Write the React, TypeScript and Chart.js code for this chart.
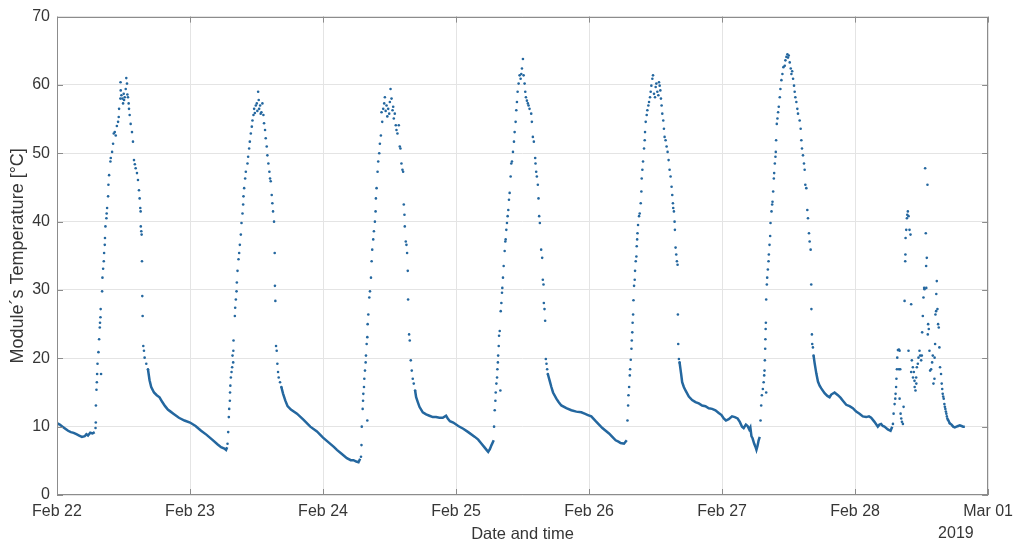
import React, { useEffect, useRef } from 'react';
import { Chart, registerables } from 'chart.js';

Chart.register(...registerables);

// x values are hours since Feb 22 2019 00:00, y values are module temperature in °C
const dayLabels = ['Feb 22', 'Feb 23', 'Feb 24', 'Feb 25', 'Feb 26', 'Feb 27', 'Feb 28', 'Mar 01'];
const yTickValues = [0, 10, 20, 30, 40, 50, 60, 70];
const yearLabel = '2019';
const xTitle = 'Date and time';
const yTitle = 'Module´s Temperature [°C]';

// dense night-time readings (drawn as a continuous run of samples)
const night0 = [[0, 10.5], [0.5, 10.3], [1, 10.0], [1.5, 9.7], [2, 9.4], [2.5, 9.2], [3, 9.1], [3.5, 8.9], [4, 8.7], [4.5, 8.5], [5, 8.6], [5.3, 8.9], [5.6, 8.7], [6, 9.1], [6.4, 9.0], [6.8, 9.2]];
const night1 = [[16.41, 18.4], [16.7, 16.8], [17.0, 15.8], [17.5, 15.0], [18.0, 14.6], [18.5, 14.3], [19.0, 13.6], [19.5, 13.0], [20, 12.5], [20.5, 12.2], [21, 11.9], [22, 11.3], [23, 10.9], [24, 10.6], [25, 10.1], [26, 9.4], [27, 8.8], [28, 8.1], [29, 7.4], [29.6, 7.0], [30.2, 6.8], [30.5, 6.6], [30.7, 7.0]];
const night2 = [[40.48, 15.8], [40.8, 14.8], [41.2, 13.8], [41.6, 13.0], [42.2, 12.5], [43.3, 11.9], [44.5, 11.0], [45.7, 10.0], [46.9, 9.3], [48.0, 8.4], [49.0, 7.7], [50.0, 7.0], [50.5, 6.6], [51.4, 6.0], [52.3, 5.4], [53.0, 5.1], [53.5, 5.1], [54.0, 4.9], [54.4, 4.8], [54.7, 5.3]];
const night3 = [[64.61, 15.3], [64.8, 14.3], [65.1, 13.6], [65.4, 12.9], [66.0, 12.1], [66.6, 11.8], [67.2, 11.6], [67.8, 11.4], [68.4, 11.4], [69.0, 11.3], [69.6, 11.3], [70.2, 11.6], [70.5, 11.2], [70.9, 10.8], [71.5, 10.6], [72.4, 10.1], [73.3, 9.7], [74.2, 9.2], [75.4, 8.5], [76.0, 8.1], [76.6, 7.5], [77.1, 7.0], [77.5, 6.6], [77.8, 6.3], [78.1, 6.7], [78.4, 7.3], [78.8, 8.0]];
const night4 = [[88.56, 17.7], [88.9, 16.7], [89.2, 15.8], [89.5, 15.0], [90.1, 14.1], [90.5, 13.6], [91.0, 13.1], [91.9, 12.7], [92.8, 12.4], [93.7, 12.2], [94.6, 12.1], [95.2, 11.9], [95.8, 11.7], [96.4, 11.5], [97.2, 10.8], [97.8, 10.3], [98.4, 9.8], [99.0, 9.4], [99.6, 9.0], [100.2, 8.5], [100.8, 8.0], [101.3, 7.8], [101.7, 7.6], [102.3, 7.5], [102.8, 8.0]];
const night5 = [[112.33, 19.4], [112.6, 17.8], [112.8, 16.5], [113.1, 15.8], [113.4, 15.3], [114.0, 14.4], [114.6, 13.9], [115.2, 13.6], [115.8, 13.4], [116.4, 13.1], [117.0, 13.0], [117.6, 12.7], [118.2, 12.6], [118.8, 12.4], [119.4, 12.0], [119.9, 11.7], [120.3, 11.2], [120.7, 10.9], [121.2, 11.1], [121.8, 11.5], [122.3, 11.4], [122.8, 11.2], [123.2, 10.7], [123.6, 10.0], [123.9, 9.8], [124.3, 10.3], [124.6, 10.1], [124.9, 9.6], [125.1, 9.9], [125.3, 8.6], [125.5, 8.3], [125.8, 7.5], [126.0, 7.1], [126.2, 6.6], [126.4, 7.2], [126.6, 8.0], [126.8, 8.5]];
const night6 = [[136.51, 20.4], [136.7, 19.3], [137.0, 17.8], [137.3, 16.6], [137.6, 16.0], [137.9, 15.6], [138.5, 14.9], [139.0, 14.5], [139.4, 14.3], [139.7, 14.7], [140.3, 15.0], [140.9, 14.6], [141.4, 14.2], [141.8, 13.8], [142.4, 13.2], [143.0, 13.0], [143.6, 12.7], [144.2, 12.2], [144.8, 11.9], [145.4, 11.5], [146.0, 11.4], [146.5, 11.5], [146.9, 11.3], [147.5, 10.7], [148.1, 10.0], [148.4, 10.3], [148.7, 10.4], [149.0, 10.1], [149.3, 10.0], [149.9, 9.6], [150.4, 9.4], [150.7, 10.0]];
const night7 = [[161.07, 10.5], [161.4, 10.3], [161.7, 10.0], [162.0, 9.9], [162.3, 10.0], [162.6, 10.1], [162.9, 10.2], [163.2, 10.1], [163.5, 10.0], [163.8, 10.0]];

// daytime readings (individual samples)
const sun22 = [[6.95, 9.8], [7.0, 10.6], [7.02, 13.1], [7.12, 15.4], [7.19, 16.5], [7.24, 17.7], [7.31, 19.2], [7.48, 20.9], [7.6, 22.8], [7.72, 24.5], [7.76, 25.2], [7.84, 26.0], [7.88, 27.2], [7.95, 17.7], [8.14, 29.8], [8.2, 31.8], [8.32, 33.1], [8.44, 34.2], [8.5, 35.4], [8.62, 36.6], [8.66, 37.6], [8.74, 39.3], [8.92, 40.5], [8.96, 41.2], [9.04, 42.0], [9.22, 43.7], [9.28, 45.4], [9.4, 46.8], [9.64, 48.8], [9.7, 49.3], [9.94, 50.2], [10.12, 51.4], [10.24, 52.9], [10.42, 53.1], [10.6, 52.6], [10.8, 54.0], [11.02, 54.6], [11.14, 55.3], [11.2, 56.5], [11.44, 58.0], [11.5, 59.2], [11.46, 60.4], [11.62, 58.5], [11.8, 58.0], [11.92, 57.3], [12.04, 58.7], [12.1, 57.8], [12.22, 58.2], [12.4, 59.4], [12.5, 61.0], [12.63, 60.2], [12.7, 58.6], [12.81, 58.2], [12.93, 57.3], [12.99, 56.5], [13.11, 55.6], [13.29, 54.3], [13.53, 53.1], [13.71, 51.7], [13.89, 49.0], [14.05, 48.4], [14.19, 47.8], [14.43, 47.1], [14.61, 46.1], [14.79, 44.6], [14.91, 43.4], [15.03, 42.0], [15.09, 41.5], [15.12, 39.3], [15.21, 38.6], [15.27, 38.1], [15.33, 34.2], [15.39, 29.1], [15.45, 26.2], [15.57, 21.8], [15.69, 21.1], [15.81, 20.1], [16.11, 19.2], [16.41, 18.4]];
const sun23 = [[30.77, 7.5], [30.89, 9.2], [31.0, 11.4], [31.07, 12.6], [31.19, 13.8], [31.22, 15.0], [31.28, 16.0], [31.37, 17.2], [31.49, 18.0], [31.6, 18.7], [31.79, 19.4], [31.67, 20.4], [31.82, 21.1], [31.85, 22.6], [32.09, 26.2], [32.15, 27.4], [32.27, 28.6], [32.39, 29.8], [32.45, 31.1], [32.57, 32.8], [32.75, 34.5], [32.87, 35.4], [32.99, 36.6], [33.17, 38.1], [33.29, 39.8], [33.47, 41.2], [33.59, 42.5], [33.65, 43.7], [33.77, 44.9], [33.95, 46.3], [34.07, 47.3], [34.37, 48.5], [34.49, 49.5], [34.67, 50.7], [34.79, 51.7], [34.97, 52.9], [35.15, 53.9], [35.27, 54.8], [35.45, 55.6], [35.57, 56.5], [35.7, 55.9], [35.87, 57.0], [36.05, 57.3], [36.15, 56.2], [36.29, 59.0], [36.4, 57.8], [36.47, 56.5], [36.65, 57.0], [36.75, 55.8], [36.88, 56.0], [37.06, 57.3], [37.24, 55.6], [37.36, 54.4], [37.54, 53.4], [37.66, 52.2], [37.84, 51.0], [37.96, 49.7], [38.14, 48.5], [38.32, 47.3], [38.44, 46.3], [38.56, 45.9], [38.74, 43.9], [38.86, 42.7], [38.98, 41.5], [39.16, 40.0], [39.28, 35.4], [39.32, 30.6], [39.4, 28.4], [39.52, 21.8], [39.64, 21.1], [39.76, 19.2], [39.88, 18.0], [40.0, 17.2], [40.24, 16.5], [40.48, 15.8]];
const sun24 = [[54.85, 5.6], [54.94, 7.3], [54.99, 10.0], [55.15, 12.6], [55.22, 13.8], [55.27, 14.8], [55.39, 15.8], [55.45, 17.0], [55.57, 18.2], [55.69, 19.4], [55.75, 20.4], [55.87, 22.1], [55.99, 10.9], [55.99, 23.1], [56.05, 25.0], [56.17, 26.4], [56.35, 28.9], [56.47, 29.8], [56.65, 31.8], [56.77, 34.2], [56.88, 35.9], [57.06, 37.4], [57.18, 38.6], [57.36, 40.0], [57.48, 41.5], [57.54, 43.4], [57.66, 44.9], [57.84, 47.3], [57.96, 48.8], [58.14, 50.0], [58.26, 51.4], [58.44, 52.6], [58.56, 56.0], [58.68, 54.6], [58.86, 56.5], [59.04, 57.3], [59.16, 58.2], [59.3, 56.2], [59.46, 57.0], [59.6, 55.4], [59.76, 56.5], [59.94, 55.8], [60.06, 57.5], [60.18, 59.4], [60.36, 58.0], [60.54, 56.3], [60.66, 56.8], [60.77, 55.1], [60.95, 55.8], [61.13, 54.1], [61.25, 53.4], [61.43, 52.9], [61.67, 54.1], [61.85, 51.0], [61.97, 50.7], [62.15, 48.5], [62.33, 47.6], [62.45, 47.3], [62.57, 42.5], [62.69, 41.0], [62.75, 39.3], [62.93, 37.1], [63.05, 36.6], [63.17, 35.4], [63.29, 32.8], [63.35, 28.6], [63.53, 23.5], [63.65, 22.6], [63.83, 19.7], [64.01, 18.2], [64.19, 17.0], [64.37, 16.3], [64.61, 15.3]];
const sun25 = [[78.86, 10.0], [78.98, 12.4], [79.1, 13.8], [79.16, 15.0], [79.28, 16.3], [79.4, 17.2], [79.46, 18.4], [79.55, 19.4], [79.6, 20.4], [79.7, 21.8], [79.76, 23.3], [79.88, 24.0], [80.0, 15.3], [80.06, 26.9], [80.18, 28.1], [80.29, 29.6], [80.35, 30.3], [80.47, 31.8], [80.59, 33.5], [80.77, 35.7], [80.89, 37.1], [80.95, 37.4], [81.07, 38.8], [81.19, 39.8], [81.31, 40.8], [81.43, 41.7], [81.55, 43.2], [81.67, 44.2], [81.85, 46.6], [81.97, 48.5], [82.09, 48.8], [82.27, 50.2], [82.45, 51.7], [82.57, 53.1], [82.75, 54.6], [82.87, 56.3], [82.99, 57.5], [83.11, 59.0], [83.29, 60.2], [83.47, 61.4], [83.65, 60.9], [83.77, 61.6], [83.89, 62.4], [84.07, 63.8], [84.19, 61.4], [84.37, 60.2], [84.49, 59.0], [84.61, 58.2], [84.79, 57.7], [84.96, 57.3], [85.08, 57.0], [85.26, 56.5], [85.56, 55.8], [85.68, 54.6], [85.86, 52.4], [86.04, 51.7], [86.28, 49.3], [86.34, 48.5], [86.46, 47.3], [86.58, 46.6], [86.76, 45.4], [86.88, 43.4], [87.0, 40.8], [87.12, 39.8], [87.36, 35.9], [87.54, 34.7], [87.66, 31.5], [87.78, 30.8], [87.84, 28.1], [87.96, 27.2], [88.08, 25.5], [88.2, 19.9], [88.32, 19.2], [88.44, 18.4], [88.56, 17.7]];
const sun26 = [[102.93, 10.9], [103.05, 13.1], [103.11, 14.6], [103.23, 15.8], [103.35, 17.5], [103.41, 18.4], [103.53, 19.8], [103.65, 21.4], [103.71, 22.6], [103.8, 23.8], [103.86, 25.2], [103.95, 26.4], [104.01, 28.5], [104.12, 30.6], [104.24, 31.5], [104.3, 32.8], [104.42, 34.2], [104.54, 34.9], [104.6, 36.4], [104.68, 37.4], [104.74, 38.3], [104.84, 39.5], [105.02, 40.8], [105.14, 41.2], [105.32, 42.7], [105.44, 44.4], [105.5, 46.3], [105.62, 47.6], [105.74, 48.8], [105.92, 50.7], [106.04, 51.9], [106.1, 53.1], [106.22, 54.6], [106.4, 55.6], [106.52, 56.3], [106.7, 57.0], [106.82, 57.5], [107.0, 58.2], [107.12, 59.0], [107.24, 59.9], [107.42, 60.9], [107.54, 61.4], [107.72, 58.7], [107.9, 58.2], [108.02, 59.7], [108.14, 60.2], [108.32, 59.0], [108.5, 58.5], [108.62, 60.4], [108.74, 59.9], [108.86, 59.2], [108.97, 58.0], [109.09, 57.0], [109.21, 55.8], [109.39, 54.8], [109.51, 53.6], [109.63, 52.4], [109.81, 51.9], [109.99, 51.0], [110.17, 50.2], [110.35, 49.0], [110.53, 47.6], [110.71, 46.6], [110.89, 45.1], [111.01, 43.9], [111.13, 42.7], [111.19, 42.0], [111.31, 41.5], [111.43, 40.0], [111.49, 38.8], [111.61, 36.2], [111.73, 35.2], [111.85, 34.2], [111.97, 33.7], [112.03, 26.4], [112.09, 22.1], [112.21, 19.9], [112.33, 19.4]];
const sun27 = [[126.94, 10.9], [127.06, 13.1], [127.18, 14.6], [127.36, 15.5], [127.5, 16.5], [127.6, 17.5], [127.66, 18.2], [127.72, 19.7], [127.96, 15.0], [127.78, 21.4], [127.82, 22.8], [127.86, 24.3], [127.9, 25.2], [127.96, 28.6], [128.08, 30.8], [128.14, 31.8], [128.26, 33.0], [128.38, 34.2], [128.44, 35.2], [128.56, 36.6], [128.68, 37.9], [128.74, 39.8], [128.92, 41.5], [129.04, 42.5], [129.1, 42.9], [129.22, 44.4], [129.34, 46.3], [129.4, 47.1], [129.52, 48.5], [129.63, 49.5], [129.69, 50.2], [129.75, 51.9], [129.87, 54.3], [129.99, 55.1], [130.11, 56.0], [130.23, 56.8], [130.41, 58.2], [130.53, 59.4], [130.71, 60.7], [130.89, 61.6], [131.07, 62.6], [131.31, 62.8], [131.43, 63.6], [131.61, 64.1], [131.79, 64.5], [131.9, 64.0], [132.03, 64.3], [132.21, 63.3], [132.39, 62.4], [132.51, 61.6], [132.65, 62.0], [132.81, 60.9], [132.98, 59.9], [133.1, 59.0], [133.22, 58.2], [133.4, 57.5], [133.58, 56.5], [133.7, 55.8], [134.0, 54.8], [134.18, 53.6], [134.3, 51.9], [134.42, 50.7], [134.6, 49.7], [134.78, 48.5], [134.9, 47.6], [135.02, 45.4], [135.2, 44.9], [135.38, 41.7], [135.5, 40.5], [135.68, 38.3], [135.8, 37.1], [135.98, 35.9], [136.09, 30.8], [136.12, 27.2], [136.21, 23.5], [136.27, 22.1], [136.39, 21.6], [136.51, 20.4]];
const sun28 = [[150.83, 10.4], [150.95, 11.9], [151.13, 13.3], [151.25, 14.1], [151.31, 14.8], [151.4, 15.8], [151.46, 17.0], [151.55, 18.4], [151.61, 20.1], [151.73, 21.2], [151.91, 21.3], [152.03, 21.1], [151.91, 18.4], [152.15, 18.4], [152.03, 14.1], [152.21, 11.9], [152.33, 11.2], [152.45, 10.7], [152.63, 10.4], [152.75, 12.9], [152.93, 28.4], [153.05, 34.2], [153.08, 35.2], [153.11, 37.6], [153.23, 38.8], [153.35, 40.5], [153.41, 41.0], [153.52, 41.5], [153.64, 40.8], [153.82, 38.8], [154.0, 38.1], [154.12, 27.9], [153.64, 21.1], [154.12, 18.0], [154.24, 19.7], [154.42, 18.7], [154.45, 17.2], [154.6, 18.0], [154.72, 16.7], [154.75, 15.8], [154.9, 15.3], [155.02, 17.2], [155.05, 16.3], [155.14, 18.7], [155.32, 19.2], [155.44, 20.1], [155.62, 21.1], [155.74, 20.4], [155.92, 19.7], [156.04, 20.4], [156.1, 23.8], [156.22, 26.2], [156.34, 28.9], [156.46, 30.3], [156.52, 30.1], [156.64, 47.8], [156.76, 38.3], [156.82, 33.5], [156.85, 30.3], [156.94, 34.7], [157.06, 45.4], [157.12, 23.5], [157.18, 25.0], [157.3, 24.3], [157.42, 21.1], [157.54, 18.2], [157.72, 18.4], [157.9, 19.4], [158.02, 20.4], [158.14, 16.3], [158.32, 17.0], [158.35, 20.1], [158.44, 22.1], [158.5, 26.4], [158.62, 26.9], [158.65, 29.4], [158.74, 31.3], [158.86, 27.2], [158.98, 25.0], [159.1, 24.5], [159.21, 21.6], [159.33, 18.7], [159.51, 17.7], [159.63, 16.3], [159.72, 15.5], [159.81, 14.8], [159.9, 14.4], [159.99, 14.1], [160.11, 13.3], [160.2, 12.9], [160.29, 12.6], [160.38, 12.2], [160.47, 11.9], [160.56, 11.5], [160.65, 11.2], [160.74, 11.0], [160.83, 10.9], [160.95, 10.7], [161.07, 10.5]];

const nights = [night0, night1, night2, night3, night4, night5, night6, night7];
const suns = [sun22, sun23, sun24, sun25, sun26, sun27, sun28];

const BLUE = '#24679f';
const FONT = '"Liberation Sans", Arial, Helvetica, sans-serif';
const TEXT = '#363636';
const FRAME = '#8c8c8c';

const toXY = (arr: number[][]) => arr.map(([x, y]) => ({ x, y }));

const framePlugin = {
  id: 'matlabFrame',
  afterDatasetsDraw(chart: any) {
    const { ctx, chartArea: a, scales } = chart;
    const L = 6;
    ctx.save();
    ctx.strokeStyle = FRAME;
    ctx.lineWidth = 1;
    ctx.strokeRect(Math.round(a.left) + 0.5, Math.round(a.top) + 0.5, Math.round(a.right - a.left) - 1, Math.round(a.bottom - a.top) - 1);
    ctx.beginPath();
    scales.x.ticks.forEach((t: any) => {
      const px = Math.round(scales.x.getPixelForValue(t.value)) + 0.5;
      ctx.moveTo(px, a.bottom);
      ctx.lineTo(px, a.bottom - L);
      ctx.moveTo(px, a.top);
      ctx.lineTo(px, a.top + L);
    });
    scales.y.ticks.forEach((t: any) => {
      const py = Math.round(scales.y.getPixelForValue(t.value)) + 0.5;
      ctx.moveTo(a.left, py);
      ctx.lineTo(a.left + L, py);
      ctx.moveTo(a.right, py);
      ctx.lineTo(a.right - L, py);
    });
    ctx.stroke();
    ctx.fillStyle = TEXT;
    ctx.font = `16px ${FONT}`;
    ctx.textAlign = 'left';
    ctx.textBaseline = 'middle';
    ctx.fillText(yearLabel, a.right - 50, scales.x.bottom - 9);
    ctx.restore();
  },
};

export default function App() {
  const canvasRef = useRef<HTMLCanvasElement | null>(null);

  useEffect(() => {
    const canvas = canvasRef.current;
    if (!canvas) return;

    const datasets: any[] = [];
    nights.forEach((n) => {
      datasets.push({
        data: toXY(n),
        showLine: true,
        borderColor: BLUE,
        backgroundColor: BLUE,
        borderWidth: 2.5,
        pointRadius: 0,
        tension: 0,
      });
    });
    suns.forEach((s) => {
      datasets.push({
        data: toXY(s),
        showLine: false,
        backgroundColor: BLUE,
        borderColor: BLUE,
        borderWidth: 0,
        pointRadius: 1.3,
        pointHoverRadius: 1.3,
      });
    });

    const chart = new Chart(canvas, {
      type: 'scatter',
      data: { datasets },
      plugins: [framePlugin],
      options: {
        responsive: false,
        animation: false,
        devicePixelRatio: 1,
        layout: { padding: { top: 14, right: 28, left: 0, bottom: 0 } },
        plugins: { legend: { display: false }, tooltip: { enabled: false } },
        scales: {
          x: {
            type: 'linear',
            min: 0,
            max: 168,
            afterBuildTicks: (s: any) => {
              s.ticks = dayLabels.map((_, i) => ({ value: i * 24 }));
            },
            afterFit: (s: any) => {
              s.height = 48;
            },
            ticks: {
              autoSkip: false,
              maxRotation: 0,
              padding: 7,
              color: TEXT,
              font: { family: FONT, size: 16 },
              callback: (v: any) => dayLabels[Math.round(Number(v) / 24)],
            },
            grid: { color: '#e4e4e4', lineWidth: 1, drawTicks: false },
            border: { display: false },
            title: {
              display: true,
              text: xTitle,
              color: TEXT,
              font: { family: FONT, size: 16.5, lineHeight: 1 },
              padding: { top: 0, bottom: 0 },
            },
          },
          y: {
            type: 'linear',
            min: 0,
            max: 70,
            afterBuildTicks: (s: any) => {
              s.ticks = yTickValues.map((v) => ({ value: v }));
            },
            afterFit: (s: any) => {
              s.width = 57;
            },
            ticks: {
              padding: 7,
              color: TEXT,
              font: { family: FONT, size: 16 },
            },
            grid: { color: '#e4e4e4', lineWidth: 1, drawTicks: false },
            border: { display: false },
            title: {
              display: true,
              text: yTitle,
              color: TEXT,
              font: { family: FONT, size: 18, lineHeight: 1.1 },
              padding: { top: 8, bottom: 0 },
            },
          },
        },
      },
    });

    return () => chart.destroy();
  }, []);

  return (
    <div style={{ position: 'absolute', left: 0, top: 0, width: 1020, height: 543, background: '#ffffff' }}>
      <canvas ref={canvasRef} width={1020} height={543} style={{ display: 'block' }} />
    </div>
  );
}
